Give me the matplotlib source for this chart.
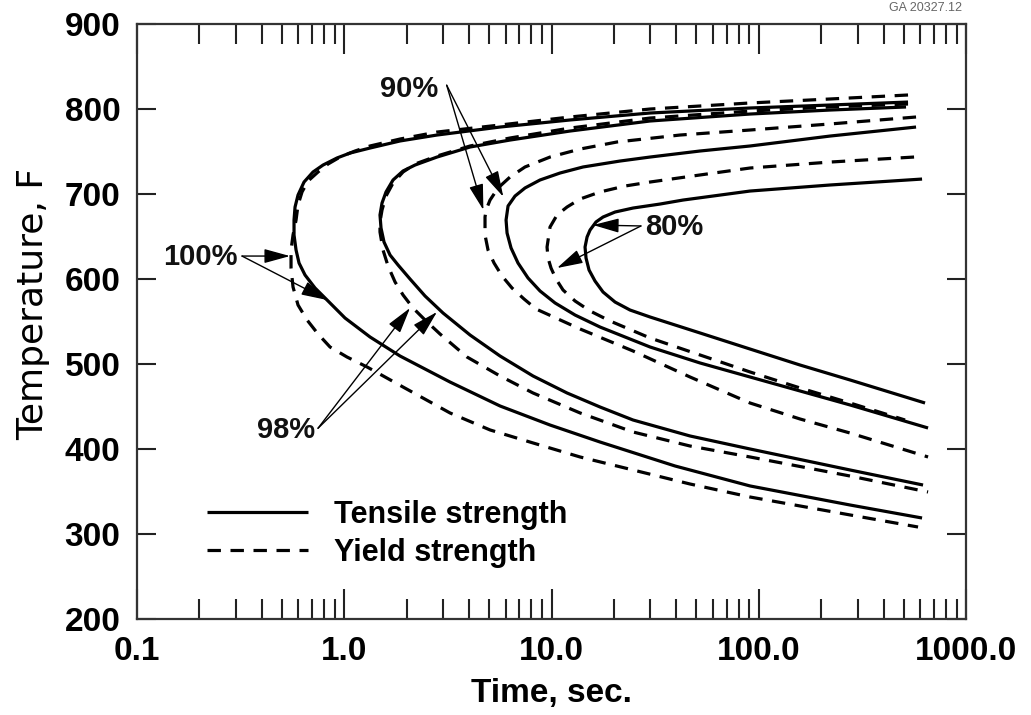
import numpy as np
import matplotlib
matplotlib.use("Agg")
import matplotlib.pyplot as plt
from matplotlib.ticker import LogLocator, NullFormatter, NullLocator

plt.rcParams['font.family'] = ['Liberation Sans', 'DejaVu Sans']
plt.rcParams['font.weight'] = 'bold'

# --- data (time in sec, temperature in F) ---
# 100 % curves
t_tensile_100 = [524.9, 220.8, 90.76, 29.88, 12.28, 5.644, 2.802, 1.858, 1.331, 1.066, 0.9226, 0.7900,
                 0.7067, 0.6395, 0.5982, 0.5787, 0.5722, 0.5722, 0.5852, 0.6050, 0.6466, 0.7226,
                 0.8258, 1.0083, 1.331, 1.858, 3.237, 5.644, 9.835, 17.14, 39.44, 90.76, 275.6, 613.4]
T_tensile_100 = [808.2, 804.7, 801.2, 795.3, 787.1, 778.8, 769.4, 762.4, 754.1, 748.2, 742.4, 734.1,
                 725.9, 714.1, 698.8, 684.7, 669.4, 651.8, 634.1, 618.8, 604.7, 589.4,
                 575.3, 554.1, 531.8, 509.4, 478.8, 450.6, 428.2, 408.2, 380.0, 356.5, 334.1, 318.8]
t_yield_100 = [524.9, 220.8, 90.76, 29.88, 12.28, 5.644, 2.802, 1.858, 1.331, 1.127, 0.9539, 0.8350,
               0.7470, 0.6686, 0.6254, 0.5982, 0.5852, 0.5659, 0.5535, 0.5535, 0.5659, 0.5982,
               0.6612, 0.7470, 0.8535, 1.031, 1.288, 1.921, 3.237, 5.050, 8.141, 13.73, 24.73,
               46.59, 90.76, 275.6, 586.7]
T_yield_100 = [816.5, 811.8, 807.1, 800.0, 790.6, 781.2, 772.9, 764.7, 756.5, 750.6, 743.5, 735.3,
               725.9, 715.3, 702.4, 687.1, 669.4, 651.8, 634.1, 612.9, 590.6, 569.4,
               551.8, 535.3, 520.0, 508.2, 496.5, 472.9, 442.4, 422.4, 407.1, 390.6, 375.3,
               358.8, 343.5, 322.4, 308.2]

# 98 % curves
t_tensile_98 = [513.4, 220.8, 90.76, 29.88, 12.28, 6.307, 4.045, 2.802, 2.195, 1.921, 1.719, 1.590,
                1.521, 1.487, 1.504, 1.555, 1.663, 1.817, 2.076, 2.453, 2.995, 4.045, 5.644,
                8.141, 11.88, 17.14, 24.73, 46.59, 90.76, 275.6, 620.2]
T_tensile_98 = [802.4, 798.8, 794.1, 785.9, 774.1, 763.5, 755.3, 743.5, 734.1, 727.1, 716.5, 702.4,
                689.4, 675.3, 660.0, 643.5, 628.2, 616.5, 600.0, 580.0, 560.0, 534.1, 509.4,
                485.9, 465.9, 449.4, 434.1, 415.3, 400.0, 375.3, 357.6]
t_yield_98 = [524.9, 220.8, 90.76, 29.88, 12.28, 6.307, 4.045, 2.802, 2.195, 1.921, 1.719, 1.590,
              1.521, 1.487, 1.487, 1.538, 1.626, 1.758, 1.921, 2.146, 2.453, 2.897, 3.911,
              5.644, 8.141, 13.73, 24.73, 46.59, 90.76, 275.6, 655.7]
T_yield_98 = [805.9, 802.4, 797.6, 789.4, 777.6, 765.9, 756.5, 744.7, 735.3, 725.9, 712.9, 697.6,
              681.2, 667.1, 655.3, 634.1, 615.3, 596.5, 581.2, 565.9, 551.8, 535.3, 508.2,
              485.9, 465.9, 442.4, 420.0, 403.5, 390.6, 368.2, 349.4]

# 90 % curves
t_tensile_90 = [573.8, 220.8, 90.76, 52.06, 29.88, 21.40, 14.19, 10.99, 8.801, 7.448, 6.665, 6.169,
                6.034, 6.101, 6.378, 6.891, 7.700, 8.801, 10.40, 12.99, 17.14, 29.88, 52.06,
                90.76, 275.6, 655.7]
T_tensile_90 = [778.8, 768.2, 756.5, 750.6, 743.5, 738.8, 731.8, 724.7, 716.5, 707.1, 697.6, 685.9,
                669.4, 654.1, 636.5, 618.8, 601.2, 585.9, 571.8, 557.6, 543.5, 520.0, 501.2,
                484.7, 451.8, 424.7]
t_yield_90 = [573.8, 220.8, 90.76, 41.69, 20.70, 13.73, 9.835, 7.448, 6.307, 5.520, 5.050, 4.831,
              4.776, 4.776, 4.939, 5.280, 5.771, 6.447, 7.366, 8.418, 13.73, 24.73, 46.59,
              90.76, 158.1, 275.6, 655.7]
T_yield_90 = [790.6, 782.4, 775.3, 769.4, 761.2, 752.9, 743.5, 731.8, 720.0, 707.1, 692.9, 681.2,
              672.9, 651.8, 634.1, 618.8, 603.5, 589.4, 576.5, 564.7, 541.2, 515.3, 484.7,
              454.1, 435.3, 418.8, 390.6]

# 80 % curves
t_tensile_80 = [613.4, 220.8, 90.76, 43.10, 33.39, 24.73, 20.25, 17.72, 16.39, 15.34, 14.84, 14.51,
                14.67, 15.17, 16.21, 17.72, 20.25, 23.92, 29.88, 52.06, 90.76, 158.1, 275.6, 634.1]
T_tensile_80 = [717.6, 710.6, 703.5, 692.9, 688.2, 683.5, 678.8, 672.9, 667.1, 657.6, 649.4, 637.6,
                624.7, 610.6, 597.6, 584.7, 572.9, 563.5, 555.3, 536.5, 517.6, 498.8, 481.2, 454.1]
t_yield_80 = [561.3, 220.8, 90.76, 52.06, 29.88, 22.62, 17.14, 13.73, 11.88, 10.63, 9.835, 9.513,
              9.618, 9.945, 10.51, 11.36, 12.99, 15.34, 19.15, 29.88, 52.06, 90.76, 158.1,
              275.6, 507.8]
T_yield_80 = [743.5, 737.6, 730.6, 722.4, 714.1, 709.4, 702.4, 694.1, 684.7, 675.3, 661.2, 637.6,
              624.7, 612.9, 600.0, 587.1, 574.1, 562.4, 550.6, 530.6, 510.6, 490.6, 471.8,
              454.1, 434.1]

# annotation labels: text anchor, arrow start, arrow tips
labels = ['100%', '98%', '90%', '80%']
label_pos = [(0.307, 626.2), (0.723, 422.4), (2.834, 823.5), (28.3, 661.2)]
label_ha = ['right', 'right', 'right', 'left']
arrow_from = [(0.321, 627.0), (0.747, 424.4), (3.12, 828.0), (27.0, 662.4)]
arrow_tips = [[(0.547, 627.0), (0.826, 575.3)],
              [(2.076, 565.9), (2.80, 561.2)],
              [(4.69, 681.2), (5.85, 696.8)],
              [(15.86, 663.5), (10.63, 612.9)]]

x_ticks = [0.1, 1, 10, 100, 1000]
x_ticklabels = ['0.1', '1.0', '10.0', '100.0', '1000.0']
y_ticks = [200, 300, 400, 500, 600, 700, 800, 900]

# --- figure ---
fig = plt.figure(figsize=(10.31, 7.15), dpi=100)
ax = fig.add_axes([0.1329, 0.1343, 0.8041, 0.8321])

lw = 2.3
dash = (4.2, 3.0)
tensile = [(t_tensile_100, T_tensile_100), (t_tensile_98, T_tensile_98),
           (t_tensile_90, T_tensile_90), (t_tensile_80, T_tensile_80)]
yields = [(t_yield_100, T_yield_100), (t_yield_98, T_yield_98),
          (t_yield_90, T_yield_90), (t_yield_80, T_yield_80)]

for i, (t, T) in enumerate(tensile):
    ax.plot(t, T, color='black', lw=lw, solid_capstyle='butt', solid_joinstyle='round',
            label='Tensile strength' if i == 0 else None)
for i, (t, T) in enumerate(yields):
    ax.plot(t, T, color='black', lw=lw, linestyle=(0, dash), dash_capstyle='butt',
            dash_joinstyle='round', label='Yield strength' if i == 0 else None)

# annotations with arrows
for lab, pos, ha, start, tips in zip(labels, label_pos, label_ha, arrow_from, arrow_tips):
    ax.text(pos[0], pos[1], lab, ha=ha, va='center', fontsize=21, color='#111')
    for tip in tips:
        ax.annotate('', xy=tip, xytext=start,
                    arrowprops=dict(arrowstyle='-|>,head_length=0.8,head_width=0.22',
                                    color='black', lw=1.0, shrinkA=0, shrinkB=0,
                                    mutation_scale=20))

ax.set_xscale('log')
ax.set_xlim(0.1, 1000)
ax.set_ylim(200, 900)
ax.set_xticks(x_ticks)
ax.set_xticklabels(x_ticklabels)
ax.xaxis.set_minor_locator(LogLocator(base=10, subs=np.arange(2, 10)))
ax.xaxis.set_minor_formatter(NullFormatter())
ax.set_yticks(y_ticks)
ax.yaxis.set_minor_locator(NullLocator())

ax.tick_params(which='both', direction='in', top=True, right=True, width=1.5, color='#222')
ax.tick_params(axis='x', which='major', length=21.5, pad=12, labelsize=24)
ax.tick_params(axis='x', which='minor', length=14.4)
ax.tick_params(axis='y', which='major', length=13.7, pad=12, labelsize=24)
for s in ax.spines.values():
    s.set_linewidth(1.6)
    s.set_color('#333')

ax.set_xlabel('Time, sec.', fontsize=24, fontweight='bold', labelpad=8)
ax.set_ylabel('Temperature, F', fontsize=26, fontweight='normal',
              family=['DejaVu Sans'])
ax.yaxis.set_label_coords(-0.105, 0.53)

leg = ax.legend(loc='center left', bbox_to_anchor=(0.0844, 0.143), frameon=False,
                fontsize=22, handlelength=3.3, handletextpad=0.85, borderpad=0,
                borderaxespad=0, labelspacing=0.28)

fig.text(0.933, 0.9888, 'GA 20327.12', ha='right', va='center', fontsize=9,
         color='#666', fontweight='normal')

fig.savefig('out.png', dpi=100)
